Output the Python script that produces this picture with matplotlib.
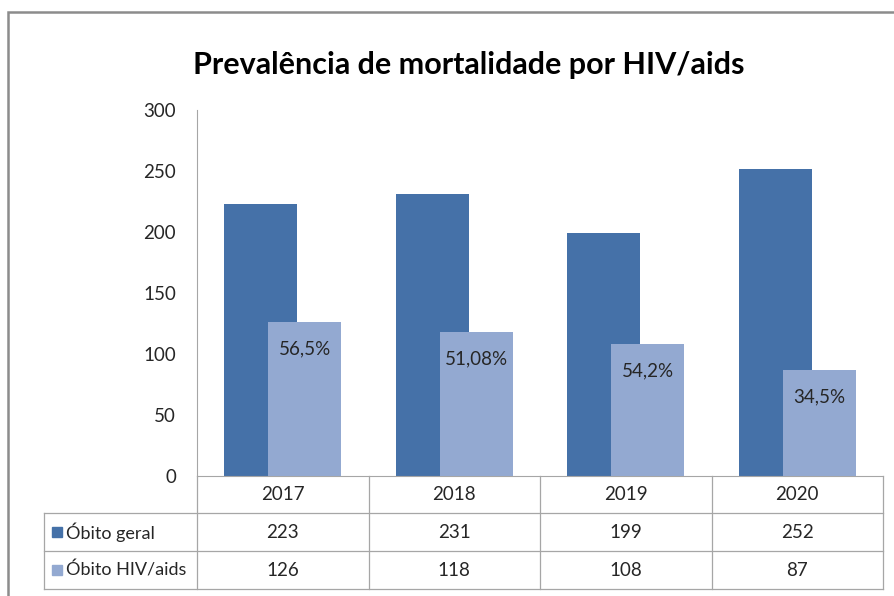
import matplotlib
matplotlib.use("Agg")
import matplotlib.pyplot as plt
import matplotlib.transforms as mtrans
from matplotlib.patches import Rectangle
import numpy as np

years = ["2017", "2018", "2019", "2020"]
obito_geral = [223, 231, 199, 252]
obito_hiv = [126, 118, 108, 87]
pct_labels = ["56,5%", "51,08%", "54,2%", "34,5%"]
series_names = ["Óbito geral", "Óbito HIV/aids"]
y_ticks = [0, 50, 100, 150, 200, 250, 300]

DARK = "#4571A8"
LIGHT = "#93A9D1"
GRID = "#a6a6a6"
TXT = "#262626"

plt.rcParams["font.family"] = ["Lato", "DejaVu Sans"]

W, H = 894, 596
fig = plt.figure(figsize=(W / 100, H / 100), dpi=100)


def fx(px):
    return px / W


def fy(py):
    return 1 - py / H


# outer chart frame (runs off the right/bottom edge like the screenshot)
fig.patches.append(Rectangle((fx(8), fy(H + 20)), 1, fy(12) - fy(H + 20),
                             transform=fig.transFigure, fill=False,
                             edgecolor="#8c8c8c", linewidth=1.8))

ax = fig.add_axes([fx(197), fy(476), fx(883) - fx(197), fy(110) - fy(476)])

x = np.arange(len(years))
bw = 0.426
off = 0.128
ax.bar(x - off, obito_geral, width=bw, color=DARK, zorder=2)
bars = ax.bar(x + off, obito_hiv, width=bw, color=LIGHT, zorder=3)

for b, lab in zip(bars, pct_labels):
    ax.annotate(lab, (b.get_x() + b.get_width() / 2, b.get_height()),
                xytext=(0, -27), textcoords="offset pixels",
                ha="center", va="center", fontsize=13.5, color=TXT, zorder=4)

ax.set_xlim(-0.5, len(years) - 0.5)
ax.set_ylim(0, 300)
ax.set_yticks(y_ticks)
ax.tick_params(axis="y", length=0, pad=15, labelsize=13.5, labelcolor=TXT)
ax.set_xticks([])
for s in ["top", "right"]:
    ax.spines[s].set_visible(False)
ax.spines["left"].set_color(GRID)
ax.spines["bottom"].set_color(GRID)

# data table under the axis
blend = mtrans.blended_transform_factory(ax.transData, fig.transFigure)
y_base, y_r1, y_r2, y_bot = fy(476), fy(513), fy(551), fy(589)
lw = 0.9

for xb in np.arange(len(years) + 1) - 0.5:
    fig.add_artist(plt.Line2D([xb, xb], [y_base, y_bot], transform=blend,
                              color=GRID, linewidth=lw))
for yy in [y_r1, y_r2, y_bot]:
    fig.add_artist(plt.Line2D([fx(44), fx(883)], [yy, yy],
                              transform=fig.transFigure, color=GRID, linewidth=lw))
fig.add_artist(plt.Line2D([fx(44), fx(44)], [y_r1, y_bot],
                          transform=fig.transFigure, color=GRID, linewidth=lw))

row_mid = [(y_base + y_r1) / 2, (y_r1 + y_r2) / 2, (y_r2 + y_bot) / 2]
for xi, yr in zip(x, years):
    fig.text(xi, row_mid[0], yr, transform=blend, ha="center", va="center",
             fontsize=13.5, color=TXT)
for xi, v1, v2 in zip(x, obito_geral, obito_hiv):
    fig.text(xi, row_mid[1], str(v1), transform=blend, ha="center", va="center",
             fontsize=13.5, color=TXT)
    fig.text(xi, row_mid[2], str(v2), transform=blend, ha="center", va="center",
             fontsize=13.5, color=TXT)

for name, col, ym in zip(series_names, [DARK, LIGHT], row_mid[1:]):
    fig.patches.append(Rectangle((fx(52), ym - 5 / H), 10 / W, 10 / H,
                                 transform=fig.transFigure, color=col))
    fig.text(fx(66), ym, name, ha="left", va="center", fontsize=13, color=TXT)

fig.text(fx(469), fy(65), "Prevalência de mortalidade por HIV/aids",
         ha="center", va="center", fontsize=22, fontweight="bold", color="black")

fig.savefig("out.png", dpi=100)
